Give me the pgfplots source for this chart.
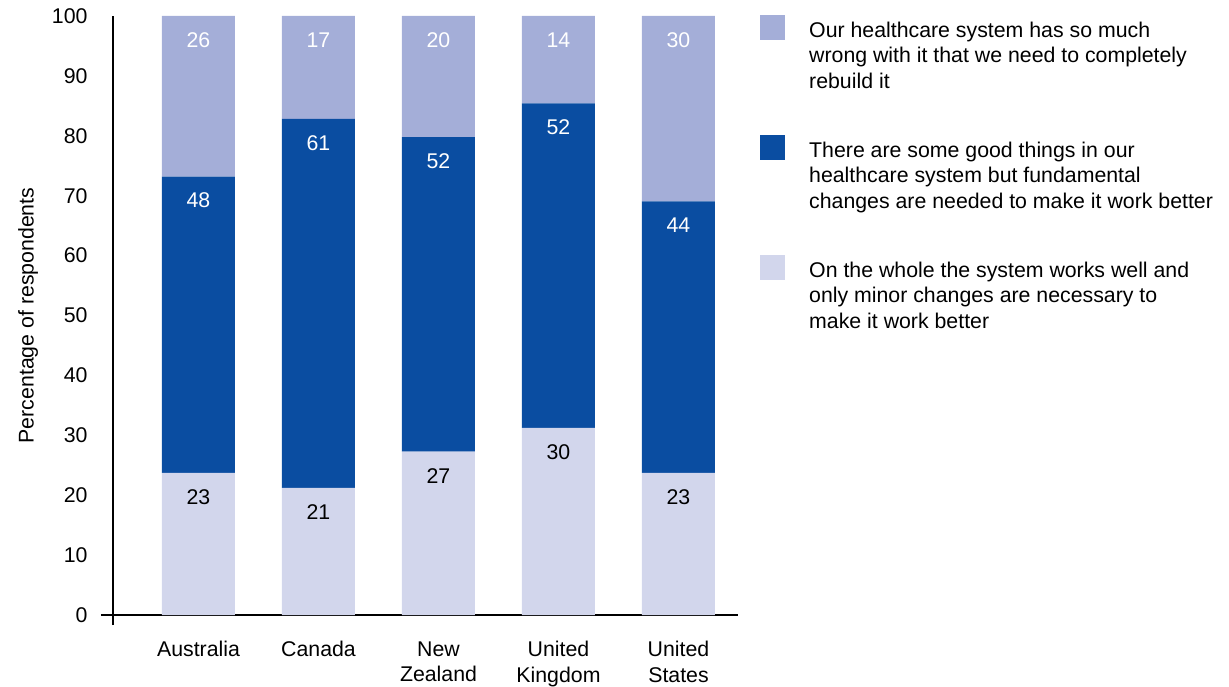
\documentclass[border=0pt]{standalone}
\usepackage{pgfplots}
\pgfplotsset{compat=1.18}
\usepackage{pgfplotstable}
\usepackage{fontspec}
\setmainfont{Liberation Sans}
\definecolor{cTop}{HTML}{A4AED8}
\definecolor{cMid}{HTML}{0A4DA1}
\definecolor{cBot}{HTML}{D2D6EC}

% bar heights are the shares normalised to 100; labels are the raw percentages
\pgfplotstableread{
x bot lbot mid lmid top ltop
0 23.711 23 49.485 48 26.804 26
1 21.212 21 61.616 61 17.172 17
2 27.273 27 52.525 52 20.202 20
3 31.250 30 54.167 52 14.583 14
4 23.711 23 45.361 44 30.928 30
}\data

\begin{document}
\begin{tikzpicture}[font=\fontsize{21.3}{25.5}\selectfont]
\path[use as bounding box] (-113pt,-71pt) rectangle (1116pt,615pt);
\begin{axis}[
  at={(0pt,0pt)}, anchor=south west,
  scale only axis, width=625pt, height=599pt,
  xmin=-0.7125, xmax=4.496, ymin=0, ymax=100,
  enlargelimits=false,
  ybar stacked, bar width=73pt,
  axis lines=left,
  axis line style={-, line width=2.2pt, black},
  x axis line style={shorten <=-12pt},
  y axis line style={shorten <=-10pt},
  tick style={draw=none},
  major tick length=0pt,
  xtick={0,1,2,3,4},
  xticklabels={Australia, Canada, New\\Zealand, United\\Kingdom, United\\States},
  xticklabel style={align=center, anchor=north, yshift=-23pt},
  ytick={0,10,...,100},
  yticklabel style={anchor=east, xshift=-22pt},
  /pgf/number format/assume math mode=true,
  ylabel={Percentage of respondents},
  ylabel style={at={(axis description cs:-0.136,0.5)}, anchor=center},
  point meta=explicit symbolic,
  nodes near coords,
  reverse legend,
  legend image code/.code={\fill[#1] (0pt,48pt) rectangle (25pt,73pt);},
  legend style={at={(1.0352,1.0017)}, anchor=north west, draw=none, fill=none,
    inner sep=0pt, column sep=24pt, row sep=45.5pt,
    nodes={inner sep=0pt}, cells={anchor=base west, align=left}},
]
\addplot[fill=cBot, draw=none,
  visualization depends on=\thisrow{bot} \as \segh,
  every node near coord/.append style={text=black, anchor=center, yshift={\segh*2.995pt-24pt}}]
  table[x=x, y=bot, meta=lbot] {\data};
\addlegendentry{On the whole the system works well and\\only minor changes are necessary to\\make it work better}
\addplot[fill=cMid, draw=none,
  visualization depends on=\thisrow{mid} \as \segh,
  every node near coord/.append style={text=white, anchor=center, yshift={\segh*2.995pt-24pt}}]
  table[x=x, y=mid, meta=lmid] {\data};
\addlegendentry{There are some good things in our\\healthcare system but fundamental\\changes are needed to make it work better}
\addplot[fill=cTop, draw=none,
  visualization depends on=\thisrow{top} \as \segh,
  every node near coord/.append style={text=white, anchor=center, yshift={\segh*2.995pt-24pt}}]
  table[x=x, y=top, meta=ltop] {\data};
\addlegendentry{Our healthcare system has so much\\wrong with it that we need to completely\\rebuild it}
\end{axis}
\end{tikzpicture}
\end{document}
